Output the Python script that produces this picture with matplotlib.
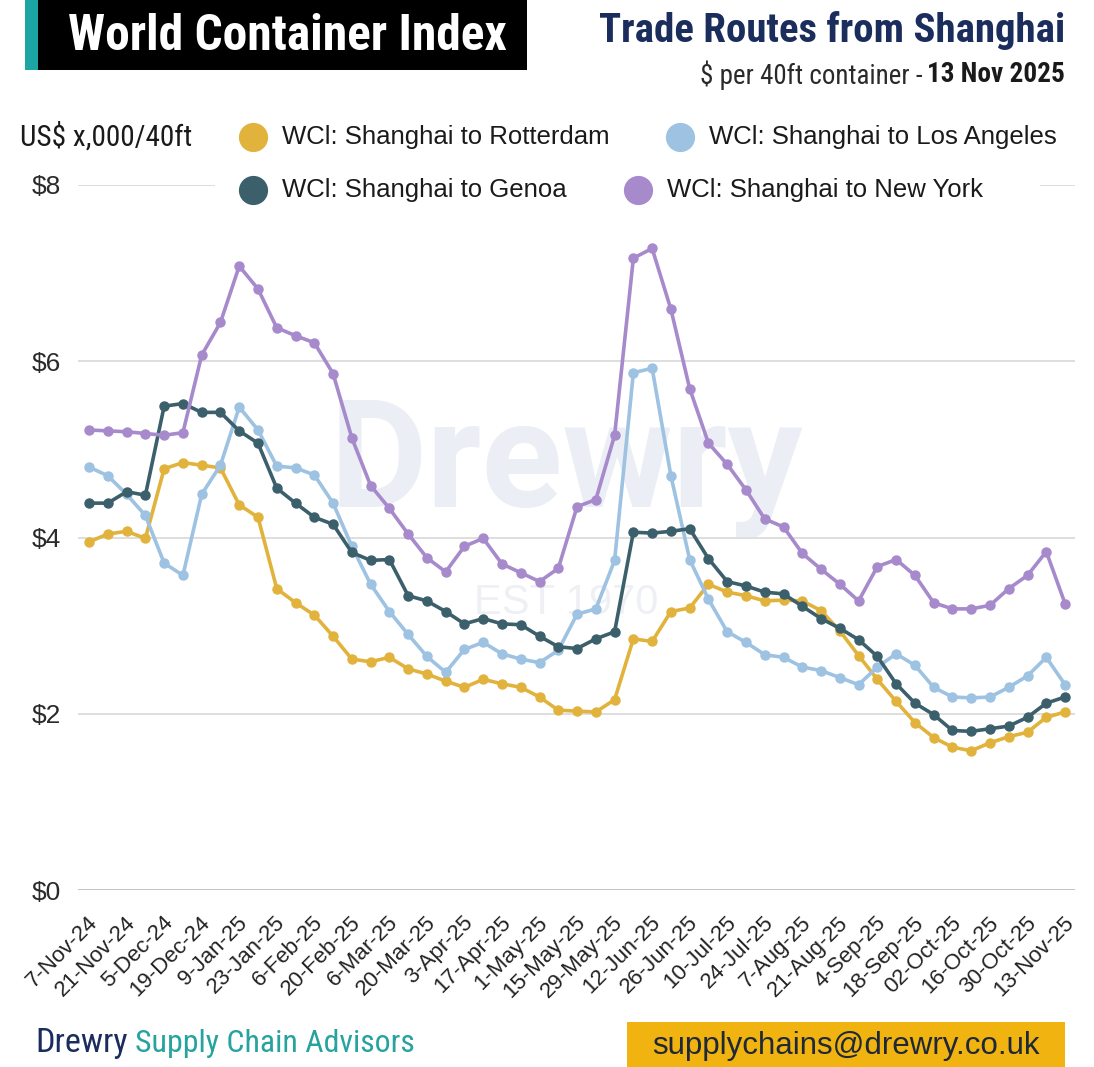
import matplotlib
matplotlib.use("Agg")
from matplotlib import pyplot as plt
from matplotlib import font_manager
from matplotlib.lines import Line2D
from matplotlib.patches import Rectangle
from matplotlib.transforms import ScaledTranslation

# weekly WCI dates (one week missing over new year)
dates = ["7-Nov-24", "14-Nov-24", "21-Nov-24", "28-Nov-24", "5-Dec-24", "12-Dec-24",
         "19-Dec-24", "2-Jan-25", "9-Jan-25", "16-Jan-25", "23-Jan-25", "30-Jan-25",
         "6-Feb-25", "13-Feb-25", "20-Feb-25", "27-Feb-25", "6-Mar-25", "13-Mar-25",
         "20-Mar-25", "27-Mar-25", "3-Apr-25", "10-Apr-25", "17-Apr-25", "24-Apr-25",
         "1-May-25", "8-May-25", "15-May-25", "22-May-25", "29-May-25", "5-Jun-25",
         "12-Jun-25", "19-Jun-25", "26-Jun-25", "3-Jul-25", "10-Jul-25", "17-Jul-25",
         "24-Jul-25", "31-Jul-25", "7-Aug-25", "14-Aug-25", "21-Aug-25", "28-Aug-25",
         "4-Sep-25", "11-Sep-25", "18-Sep-25", "25-Sep-25", "02-Oct-25", "09-Oct-25",
         "16-Oct-25", "23-Oct-25", "30-Oct-25", "06-Nov-25", "13-Nov-25"]

# US$ thousand per 40ft
rotterdam = [3.95, 4.04, 4.07, 3.99, 4.78, 4.85, 4.82, 4.79, 4.37, 4.23, 3.42, 3.26, 3.12,
             2.88, 2.62, 2.59, 2.64, 2.51, 2.45, 2.37, 2.30, 2.39, 2.34, 2.30, 2.19, 2.04,
             2.03, 2.02, 2.16, 2.85, 2.82, 3.16, 3.20, 3.47, 3.38, 3.34, 3.28, 3.29, 3.28,
             3.17, 2.94, 2.66, 2.39, 2.14, 1.90, 1.73, 1.62, 1.58, 1.67, 1.74, 1.79, 1.96, 2.02]
los_angeles = [4.80, 4.70, 4.49, 4.25, 3.71, 3.57, 4.49, 4.82, 5.48, 5.22, 4.81, 4.79, 4.71,
               4.39, 3.90, 3.47, 3.16, 2.90, 2.65, 2.47, 2.73, 2.81, 2.68, 2.62, 2.58, 2.72,
               3.13, 3.19, 3.74, 5.87, 5.92, 4.70, 3.75, 3.30, 2.93, 2.81, 2.67, 2.64, 2.53,
               2.49, 2.41, 2.33, 2.53, 2.68, 2.55, 2.30, 2.19, 2.18, 2.19, 2.30, 2.43, 2.64, 2.33]
genoa = [4.39, 4.39, 4.52, 4.48, 5.49, 5.52, 5.42, 5.42, 5.21, 5.07, 4.56, 4.39, 4.23,
         4.15, 3.83, 3.74, 3.75, 3.34, 3.28, 3.16, 3.02, 3.08, 3.02, 3.01, 2.88, 2.76,
         2.74, 2.85, 2.93, 4.06, 4.05, 4.07, 4.10, 3.76, 3.50, 3.45, 3.38, 3.36, 3.22,
         3.08, 2.97, 2.84, 2.65, 2.34, 2.12, 1.99, 1.81, 1.80, 1.83, 1.86, 1.96, 2.12, 2.19]
new_york = [5.22, 5.21, 5.20, 5.18, 5.16, 5.19, 6.07, 6.44, 7.08, 6.82, 6.38, 6.29, 6.21,
            5.86, 5.13, 4.59, 4.33, 4.04, 3.77, 3.61, 3.90, 3.99, 3.70, 3.60, 3.50, 3.65,
            4.35, 4.43, 5.16, 7.17, 7.28, 6.59, 5.69, 5.07, 4.83, 4.54, 4.21, 4.12, 3.82,
            3.64, 3.47, 3.28, 3.67, 3.75, 3.57, 3.26, 3.19, 3.19, 3.23, 3.42, 3.57, 3.84, 3.25]

series_names = ["WCl: Shanghai to Rotterdam", "WCl: Shanghai to Los Angeles",
                "WCl: Shanghai to Genoa", "WCl: Shanghai to New York"]
colors = ["#E2B33C", "#9DC2E2", "#3C5F6C", "#A68ACB"]

yticks = [0, 2, 4, 6, 8]
ytick_labels = ["\\$0", "\\$2", "\\$4", "\\$6", "\\$8"]

# look for a condensed face for the headings, else plain Liberation Sans
entries = font_manager.fontManager.ttflist
cond_name = None
for want in ["Liberation Sans Narrow", "Roboto Condensed", "DejaVu Sans Condensed",
             "Open Sans Condensed", "Noto Sans Condensed", "Arial Narrow"]:
    if any(f.name == want for f in entries):
        cond_name = want
        break
cond_stretch = "normal"
if cond_name is None:
    for f in entries:
        if f.stretch in ("condensed", "semi-condensed") and f.name in ("DejaVu Sans", "Roboto",
                                                                       "Open Sans", "Noto Sans"):
            cond_name, cond_stretch = f.name, "condensed"
            break
NARROW = [cond_name, "Liberation Sans", "DejaVu Sans"] if cond_name else ["Liberation Sans", "DejaVu Sans"]
SANS = ["Liberation Sans", "DejaVu Sans"]

W, H = 1094, 1067
fig = plt.figure(figsize=(W / 100, H / 100), dpi=100)
renderer = fig.canvas.get_renderer()


def fx(x):
    return x / W


def fy(y):
    return 1 - y / H


def fit(t, width_px):
    # shrink/grow a text so it spans the same width as in the original
    w = t.get_window_extent(renderer).width
    t.set_fontsize(t.get_fontsize() * width_px / w)


ax = fig.add_axes([fx(78), fy(890), fx(1075) - fx(78), fy(185) - fy(890)])
x = list(range(len(dates)))

# watermark
ax.text(0.49, 0.543, "Drewry", transform=ax.transAxes, ha="center", va="baseline",
        fontsize=108, fontweight="bold", family=["Roboto", "DejaVu Sans"],
        color="#EBEEF4", zorder=0.5)
ax.text(0.49, 0.407, "EST 1970", transform=ax.transAxes, ha="center", va="center",
        fontsize=30, family=SANS, color="#EEF0F4", zorder=0.5)

for vals, c in zip([rotterdam, los_angeles, genoa, new_york], colors):
    ax.plot(x, vals, color=c, lw=2.6, marker="o", ms=6.5, solid_joinstyle="round",
            solid_capstyle="round", zorder=3, clip_on=False)

ax.set_xlim(-0.59, 52.53)
ax.set_ylim(0, 8)
ax.set_yticks(yticks)
ax.set_yticklabels(ytick_labels, family=SANS, fontsize=19, color="#2b2b2b")
ax.set_xticks(x[::2])
ax.set_xticklabels(dates[::2], rotation=45, ha="right", va="top", rotation_mode="anchor",
                   family=SANS, fontsize=16, color="#222222")
ax.tick_params(axis="y", length=0, pad=12)
ax.tick_params(axis="x", length=0, pad=16)
for lab in ax.get_xticklabels():
    lab.set_transform(lab.get_transform() + ScaledTranslation(-2 / 100, 0, fig.dpi_scale_trans))
for s in ax.spines.values():
    s.set_visible(False)
ax.yaxis.grid(True, color="#DEDEDE", lw=1.4)
ax.set_axisbelow(True)
ax.get_ygridlines()[0].set_color("#BDBDBD")
ax.get_ygridlines()[0].set_linewidth(2)

# header
fig.add_artist(Rectangle((fx(25), fy(70)), fx(38) - fx(25), fy(0) - fy(70),
                         transform=fig.transFigure, color="#1BA5A3", lw=0))
fig.add_artist(Rectangle((fx(38), fy(70)), fx(527) - fx(38), fy(0) - fy(70),
                         transform=fig.transFigure, color="black", lw=0))
t = fig.text(fx(68), fy(37), "World Container Index", color="white", fontsize=36,
             fontweight="bold", family=NARROW, stretch=cond_stretch, ha="left", va="center")
fit(t, 440)
t = fig.text(fx(1065), fy(30), "Trade Routes from Shanghai", color="#1B2D5C", fontsize=30,
             fontweight="bold", family=NARROW, stretch=cond_stretch, ha="right", va="center")
fit(t, 467)
date_txt = fig.text(fx(1065), fy(75), "13 Nov 2025", color="#1a1a1a", fontsize=21,
                    fontweight="bold", family=NARROW, stretch=cond_stretch,
                    ha="right", va="center")
fit(date_txt, 138)
bb = date_txt.get_window_extent(renderer)
t = fig.text(bb.x0 / W - fx(4), fy(75), "\\$ per 40ft container -", color="#2a2a2a",
             fontsize=21, family=NARROW, stretch=cond_stretch, ha="right", va="center")
fit(t, 222)

# legend
fig.add_artist(Rectangle((fx(215), fy(212)), fx(1040) - fx(215), fy(163) - fy(212),
                         transform=fig.transFigure, color="white", lw=0, zorder=1))
t = fig.text(fx(20), fy(137), "US\\$ x,000/40ft", fontsize=22, family=NARROW,
             stretch=cond_stretch, color="#1a1a1a", ha="left", va="center")
fit(t, 172)
leg_pos = [(253, 137), (680, 137), (253, 190), (638, 190)]
for name, c, (lx, ly) in zip(series_names, colors, leg_pos):
    fig.add_artist(Line2D([fx(lx)], [fy(ly)], marker="o", ms=20, color=c, lw=0,
                          transform=fig.transFigure, zorder=2))
    fig.text(fx(lx + 29), fy(ly), name, fontsize=18.5, family=SANS, color="#1a1a1a",
             ha="left", va="center", zorder=3)

# footer
drew = fig.text(fx(35), fy(1043), "Drewry", color="#1B2D5C", fontsize=24, family=NARROW,
                stretch=cond_stretch, ha="left", va="center")
fit(drew, 93)
bb = drew.get_window_extent(renderer)
t = fig.text(bb.x1 / W + fx(7), fy(1043), "Supply Chain Advisors", color="#27A39F",
             fontsize=24, family=NARROW, stretch=cond_stretch, ha="left", va="center")
fit(t, 280)
fig.add_artist(Rectangle((fx(627), fy(1067)), fx(1065) - fx(627), fy(1022) - fy(1067),
                         transform=fig.transFigure, color="#F0B30F", lw=0))
t = fig.text(fx(846), fy(1046), "supplychains@drewry.co.uk", color="#1E2838", fontsize=22,
             family=SANS, ha="center", va="center")
fit(t, 386)

fig.savefig("out.png", dpi=100)
